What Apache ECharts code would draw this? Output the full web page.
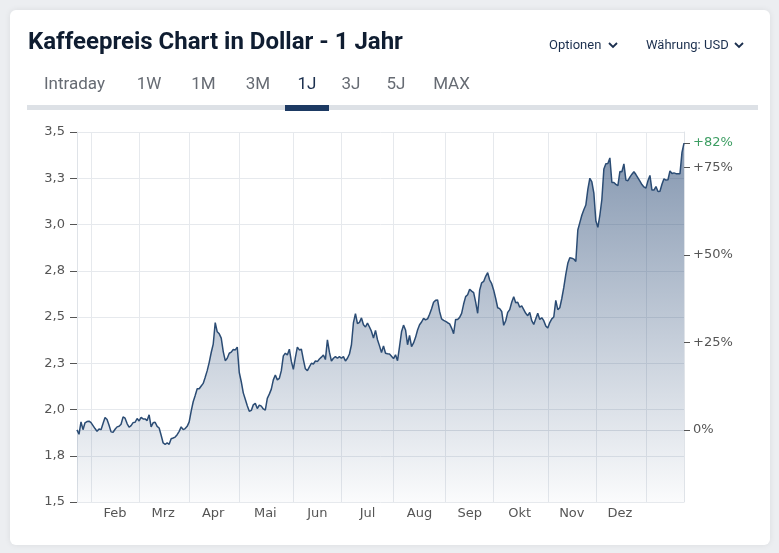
<!DOCTYPE html>
<html><head><meta charset="utf-8">
<script src="https://cdn.jsdelivr.net/npm/echarts@6/dist/echarts.min.js"></script>
<style>html,body{margin:0;padding:0;background:#eceef1;}#c{width:779px;height:553px;}</style>
</head><body><div id="c"></div>
<script>
// ---- data (trading-day closes, USD per lb) ----
const jan24 = [1.89,1.866,1.933,1.891,1.928,1.935,1.937];
const feb = [1.929,1.913,1.897,1.882,1.895,1.891,1.924,1.957,1.946,1.915,1.879,1.877,1.893,1.906,1.909,1.920,1.960,1.953,1.924,1.904,1.913,1.929,1.931,1.951];
const mrz = [1.938,1.957,1.949,1.949,1.940,1.971,1.906,1.928,1.931,1.909,1.900,1.861,1.819,1.812,1.819,1.812,1.842,1.846,1.851,1.864,1.882,1.906,1.891,1.897,1.909];
const apr = [1.933,1.991,2.042,2.076,2.112,2.112,2.127,2.141,2.174,2.210,2.255,2.308,2.353,2.47,2.42,2.409,2.386,2.313,2.264,2.277,2.304,2.310,2.324,2.322,2.337];
const mai = [2.20,2.15,2.09,2.055,2.02,1.99,1.995,2.025,2.033,2.005,2.024,2.018,2.003,1.996,2.06,2.083,2.11,2.16,2.187,2.16,2.168,2.21,2.29,2.304,2.295,2.326,2.26];
const jun = [2.217,2.28,2.337,2.322,2.326,2.27,2.22,2.21,2.23,2.25,2.246,2.262,2.259,2.273,2.283,2.295,2.27,2.377,2.31,2.262,2.277,2.286,2.277,2.286];
const jul = [2.277,2.286,2.262,2.277,2.30,2.35,2.47,2.518,2.464,2.471,2.495,2.458,2.446,2.467,2.446,2.422,2.386,2.428,2.377,2.344,2.308,2.344,2.304,2.301,2.30,2.288];
const aug = [2.275,2.296,2.264,2.34,2.42,2.456,2.43,2.35,2.40,2.34,2.36,2.39,2.43,2.458,2.473,2.493,2.485,2.49,2.515,2.545,2.58,2.59,2.592,2.53,2.49,2.482];
const sep = [2.476,2.469,2.463,2.44,2.41,2.487,2.487,2.498,2.52,2.57,2.61,2.62,2.65,2.64,2.632,2.58,2.52,2.645,2.685,2.692,2.72,2.74,2.70,2.68];
const okt = [2.645,2.60,2.55,2.545,2.53,2.455,2.48,2.525,2.54,2.58,2.61,2.577,2.58,2.553,2.56,2.54,2.52,2.507,2.525,2.48,2.46,2.49,2.52,2.487,2.496,2.48,2.452];
const nov = [2.44,2.47,2.49,2.50,2.59,2.54,2.55,2.60,2.66,2.73,2.79,2.82,2.818,2.813,2.80,2.97,3.01,3.05,3.08,3.105,3.19,3.25,3.23,3.17];
const dez = [3.02,2.985,3.05,3.135,3.30,3.328,3.33,3.36,3.227,3.227,3.217,3.21,3.286,3.285,3.328,3.24,3.237,3.256,3.272,3.285,3.27,3.252,3.234,3.216,3.203];
const jan25 = [3.197,3.236,3.265,3.186,3.186,3.205,3.178,3.18,3.218,3.247,3.24,3.242,3.29,3.276,3.279,3.275,3.275,3.275,3.39,3.44];

const monthNames = ['Jan','Feb','Mrz','Apr','Mai','Jun','Jul','Aug','Sep','Okt','Nov','Dez','Jan'];
const monthYears = [2024,2024,2024,2024,2024,2024,2024,2024,2024,2024,2024,2024,2025];
const monthValues = [jan24,feb,mrz,apr,mai,jun,jul,aug,sep,okt,nov,dez,jan25];
const labeledMonths = [false,true,true,true,true,true,true,true,true,true,true,true,false];
const pctTicks = [0,25,50,75];
const tabs = ['Intraday','1W','1M','3M','1J','3J','5J','MAX'];
const activeTab = '1J';
const titleText = 'Kaffeepreis Chart in Dollar - 1 Jahr';

// ---- build ----
const values = [], categories = [], monthStarts = [], labelAt = {};
monthValues.forEach((arr, m) => {
  const start = categories.length;
  if (m > 0) monthStarts.push(start);
  if (labeledMonths[m]) labelAt[start + Math.floor(arr.length / 2)] = monthNames[m];
  arr.forEach((v, k) => { values.push(v); categories.push(monthNames[m] + ' ' + monthYears[m] + ' #' + (k + 1)); });
});
const base = values[0];
const last = values[values.length - 1];
const lastPct = (last / base - 1) * 100;
const yMin = 1.5, yMax = 3.5;
const pctValues = pctTicks.concat([lastPct]);

const font = 'Roboto, "Noto Sans", sans-serif';
const navy = '#1b2f4e';
const tabX = [74.5,149,203.5,258,307,351,396,451.5];
const graphics = [
  {type:'rect', z:-10, shape:{x:10,y:10,width:760,height:535,r:6}, style:{fill:'#ffffff', shadowBlur:6, shadowColor:'rgba(0,0,0,0.08)'}},
  {type:'text', style:{x:28,y:42.5,text:titleText,font:'bold 24px Roboto, sans-serif',fill:'#0f1d31',verticalAlign:'middle'}},
  {type:'text', style:{x:549,y:46,text:'Optionen',font:'13px '+font,fill:navy,verticalAlign:'middle'}},
  {type:'polyline', shape:{points:[[609,43],[613,47],[617,43]]}, style:{stroke:navy,lineWidth:1.8,fill:null}},
  {type:'text', style:{x:646,y:46,text:'Währung: USD',font:'13px '+font,fill:navy,verticalAlign:'middle'}},
  {type:'polyline', shape:{points:[[735,43],[739,47],[743,43]]}, style:{stroke:navy,lineWidth:1.8,fill:null}},
  {type:'rect', shape:{x:27,y:105,width:731,height:5}, style:{fill:'#dde1e6'}},
  {type:'rect', shape:{x:285,y:105,width:44,height:6}, style:{fill:'#1d3a63'}}
];
tabs.forEach((t, i) => graphics.push({type:'text', style:{x:tabX[i],y:85,text:t,font:'17px '+font,fill:t===activeTab?navy:'#666b73',align:'center',verticalAlign:'middle'}}));

const chart = echarts.init(document.getElementById('c'), null, {renderer:'canvas'});
chart.setOption({
  animation:false,
  graphic: graphics,
  grid:{left:77,right:95,top:132,bottom:51},
  xAxis:{
    type:'category', data:categories, boundaryGap:false,
    axisLine:{lineStyle:{color:'#dfe3e8'}}, axisTick:{show:false},
    axisLabel:{interval:(i)=> i in labelAt, formatter:(v,i)=> labelAt[i] || '', color:'#555', fontSize:13, fontFamily:'"DejaVu Sans"', margin:5},
    splitLine:{show:true, interval:(i)=> monthStarts.indexOf(i) >= 0, lineStyle:{color:'#e6e9ed', width:1}}
  },
  yAxis:[{
    type:'value', min:yMin, max:yMax, interval:0.25, position:'left',
    axisLine:{show:true, lineStyle:{color:'#dfe3e8'}},
    axisTick:{show:true, length:7, lineStyle:{color:'#555'}},
    axisLabel:{formatter:(v)=> v.toFixed(1).replace('.', ','), color:'#555', fontSize:13, fontFamily:'"DejaVu Sans"', margin:12},
    splitLine:{lineStyle:{color:'#e6e9ed', width:1}}
  },{
    type:'value', position:'right', min:(yMin/base-1)*100, max:(yMax/base-1)*100,
    axisLine:{show:true, lineStyle:{color:'#dfe3e8'}},
    axisTick:{show:true, length:6, customValues:pctValues, lineStyle:{color:'#555'}},
    axisLabel:{customValues:pctValues, margin:9, color:'#555', fontSize:13, fontFamily:'"DejaVu Sans"',
      formatter:(v)=> { const s = (v>0?'+':'') + Math.round(v) + '%'; return Math.abs(v-lastPct)<1e-9 ? '{g|'+s+'}' : s; },
      rich:{g:{color:'#3c9d62', fontSize:13, fontFamily:'"DejaVu Sans"'}}},
    splitLine:{show:false}
  }],
  series:[{
    type:'line', data:values, yAxisIndex:0, showSymbol:false, smooth:false,
    lineStyle:{color:'#2b4c74', width:1.5},
    areaStyle:{opacity:1, color:new echarts.graphic.LinearGradient(0,132,0,502,[{offset:0,color:'rgba(30,64,110,0.56)'},{offset:1,color:'rgba(30,64,110,0.02)'}],true)}
  }]
});
</script></body></html>
